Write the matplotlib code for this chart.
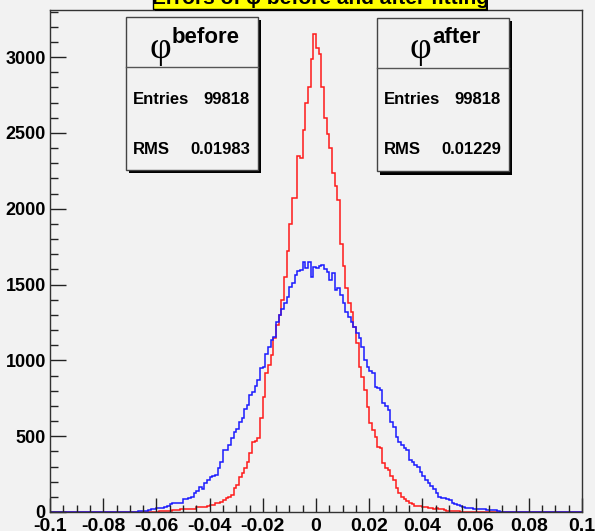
import numpy as np
import matplotlib
matplotlib.use('Agg')
import matplotlib.pyplot as plt
from matplotlib import font_manager
from matplotlib.patches import Rectangle
from matplotlib.lines import Line2D

# histogram: 200 bins from -0.1 to 0.1
x_lo, x_hi, n_bins = -0.1, 0.1, 200

# phi before fitting (blue), counts per bin
before = [
    0, 0, 0, 0, 0, 0, 0, 0, 0, 0,
    0, 0, 0, 0, 0, 0, 0, 0, 0, 0,
    0, 0, 0, 0, 0, 0, 0, 0, 1, 2,
    2, 3, 3, 4, 5, 6, 8, 10, 18, 18,
    29, 29, 29, 35, 40, 50, 57, 57, 57, 60,
    83, 83, 95, 101, 127, 140, 165, 149, 190, 211,
    233, 240, 244, 288, 332, 409, 409, 440, 486, 530,
    550, 596, 618, 680, 706, 770, 794, 830, 870, 947,
    958, 1040, 1090, 1134, 1152, 1250, 1300, 1340, 1380, 1420,
    1486, 1508, 1560, 1590, 1595, 1650, 1606, 1650, 1551, 1617,
    1606, 1620, 1628, 1600, 1584, 1527, 1573, 1463, 1480, 1430,
    1375, 1320, 1285, 1250, 1220, 1180, 1150, 1090, 1000, 955,
    930, 915, 825, 815, 805, 720, 700, 670, 595, 560,
    495, 460, 440, 425, 410, 343, 330, 310, 297, 264,
    240, 211, 190, 170, 150, 125, 100, 95, 90, 85,
    80, 60, 55, 45, 40, 35, 28, 25, 25, 22,
    20, 18, 17, 18, 16, 15, 14, 12, 5, 3,
    2, 2, 1, 1, 0, 1, 0, 0, 1, 0,
    0, 0, 0, 0, 0, 0, 0, 0, 0, 0,
    0, 0, 0, 0, 0, 0, 0, 0, 0, 0,
]

# phi after fitting (red)
after = [
    0, 0, 0, 0, 0, 0, 0, 0, 0, 0,
    0, 0, 0, 0, 0, 0, 0, 0, 0, 0,
    0, 0, 0, 0, 0, 1, 0, 0, 1, 0,
    0, 1, 0, 1, 1, 0, 2, 1, 2, 3,
    3, 4, 5, 6, 8, 9, 11, 13, 15, 18,
    17, 20, 19, 22, 21, 31, 30, 33, 32, 40,
    46, 47, 61, 60, 64, 79, 90, 100, 112, 156,
    178, 233, 255, 290, 332, 387, 464, 470, 486, 617,
    760, 914, 969, 1035, 1145, 1233, 1300, 1400, 1550, 1720,
    1900, 2070, 2070, 2350, 2335, 2520, 2700, 2800, 2990, 3150,
    3060, 3020, 2800, 2600, 2490, 2400, 2235, 2150, 2060, 1770,
    1620, 1474, 1376, 1320, 1222, 1112, 958, 892, 804, 694,
    585, 541, 496, 430, 420, 321, 288, 277, 240, 211,
    156, 123, 101, 84, 75, 60, 53, 40, 42, 38,
    31, 30, 24, 25, 22, 24, 20, 23, 10, 8,
    7, 5, 4, 4, 3, 2, 2, 1, 1, 0,
    1, 0, 0, 1, 0, 0, 0, 0, 0, 0,
    0, 0, 0, 0, 0, 0, 0, 0, 0, 0,
    0, 0, 0, 0, 0, 0, 0, 0, 0, 0,
    0, 0, 0, 0, 0, 0, 0, 0, 0, 0,
]

x_ticks = [-0.1, -0.08, -0.06, -0.04, -0.02, 0, 0.02, 0.04, 0.06, 0.08, 0.1]
x_labels = ['-0.1', '-0.08', '-0.06', '-0.04', '-0.02', '0',
            '0.02', '0.04', '0.06', '0.08', '0.1']
y_ticks = [0, 500, 1000, 1500, 2000, 2500, 3000]
y_labels = ['0', '500', '1000', '1500', '2000', '2500', '3000']

title = 'Errors of φ before and after fitting'
box_names = ['before', 'after']
box_entries = ['99818', '99818']
box_rms = ['0.01983', '0.01229']

# fonts (ROOT uses a condensed helvetica bold)
names = {f.name for f in font_manager.fontManager.ttflist}
narrow = 'Liberation Sans Narrow' in names
font = 'Liberation Sans Narrow' if narrow else 'Liberation Sans'
plt.rcParams['font.family'] = [font, 'DejaVu Sans']
plt.rcParams['font.weight'] = 'bold'
fs = 15 if narrow else 13

bg = '#f2f2f2'
W, H = 595, 531
fig = plt.figure(figsize=(W / 100, H / 100), dpi=100, facecolor=bg)


def fx(px):
    return px / W


def fy(py):
    return 1 - py / H


ax = fig.add_axes([fx(50), fy(512), fx(582) - fx(50), fy(10) - fy(512)])
ax.set_facecolor(bg)

edges = np.linspace(x_lo, x_hi, n_bins + 1)
ax.stairs(after, edges, color='#ff1a1a', lw=1.1)
ax.stairs(before, edges, color='#1a1aff', lw=1.1)

ax.set_xlim(x_lo, x_hi)
ax.set_ylim(0, 3310)
ax.set_xticks(x_ticks)
ax.set_xticklabels(x_labels)
ax.set_xticks(np.arange(-0.1, 0.1001, 0.005), minor=True)
ax.set_yticks(y_ticks)
ax.set_yticklabels(y_labels)
ax.set_yticks(np.arange(0, 3301, 100), minor=True)
ax.tick_params(which='both', direction='in', top=False, right=False,
               colors='#222222', labelcolor='black', labelsize=fs)
ax.tick_params(axis='y', which='major', length=11.5, width=1, pad=3)
ax.tick_params(axis='y', which='minor', length=5.8, width=1)
ax.tick_params(axis='x', which='major', length=10, width=1, pad=4, labelsize=fs + 1)
ax.tick_params(axis='x', which='minor', length=5, width=1)
for s in ax.spines.values():
    s.set_linewidth(1)
    s.set_color('#333333')

# title box at the top, partly cut off
tr = fig.transFigure
fig.add_artist(Rectangle((fx(155), fy(10.5)), fx(488) - fx(155), fy(-20) - fy(10.5),
                         transform=tr, facecolor='black', edgecolor='none'))
fig.add_artist(Rectangle((fx(153), fy(8.5)), fx(486) - fx(153), fy(-20) - fy(8.5),
                         transform=tr, facecolor='#ffff00', edgecolor='black', lw=1))
fig.text(fx(320), fy(4), title, ha='center', va='baseline', fontsize=fs + 2)


def stat_box(x0, x1, y0, y1, ydiv, name, entries, rms, phi_x):
    fig.add_artist(Rectangle((fx(x0 + 3), fy(y1 + 3)), fx(x1) - fx(x0), fy(y0) - fy(y1),
                             transform=tr, facecolor='black', edgecolor='none'))
    fig.add_artist(Rectangle((fx(x0), fy(y1)), fx(x1) - fx(x0), fy(y0) - fy(y1),
                             transform=tr, facecolor=bg, edgecolor='#444444', lw=1))
    fig.add_artist(Line2D([fx(x0), fx(x1)], [fy(ydiv), fy(ydiv)], transform=tr,
                          color='#555555', lw=1))
    fig.text(fx(phi_x), fy(58), 'φ', ha='center', va='baseline', fontsize=27,
             family=['Liberation Serif', 'DejaVu Serif'], fontweight='normal')
    fig.text(fx(phi_x + 12), fy(43), name, ha='left', va='baseline', fontsize=fs + 3)
    fig.text(fx(x0 + 7), fy(104), 'Entries', ha='left', va='baseline', fontsize=fs - 1)
    fig.text(fx(x1 - 8), fy(104), entries, ha='right', va='baseline', fontsize=fs - 1)
    fig.text(fx(x0 + 7), fy(154), 'RMS', ha='left', va='baseline', fontsize=fs - 1)
    fig.text(fx(x1 - 8), fy(154), rms, ha='right', va='baseline', fontsize=fs - 1)


stat_box(125.5, 258, 16.5, 170, 67, box_names[0], box_entries[0], box_rms[0], 160)
stat_box(376.5, 509, 17.5, 171.5, 68, box_names[1], box_entries[1], box_rms[1], 420)

fig.savefig('out.png', dpi=100, facecolor=bg)
